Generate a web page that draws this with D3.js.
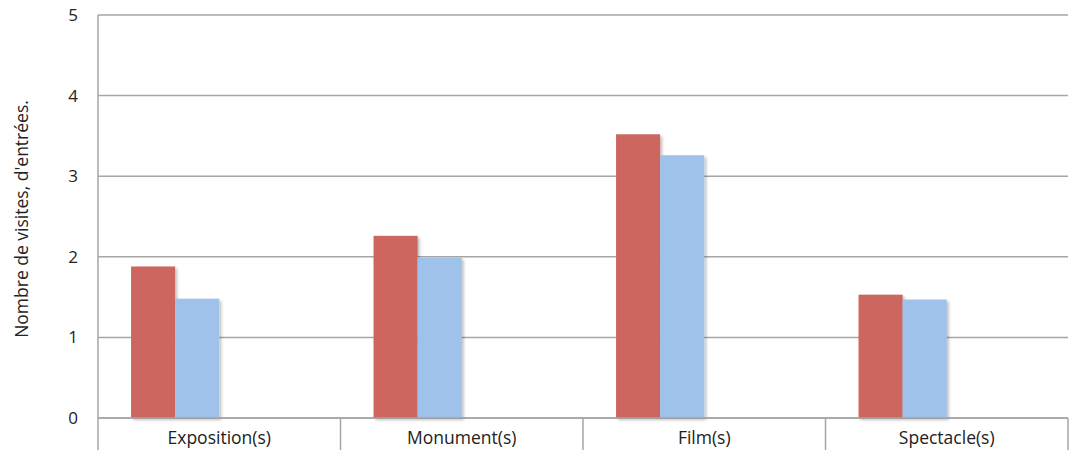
<!DOCTYPE html>
<html><head><meta charset="utf-8">
<script src="https://cdn.jsdelivr.net/npm/d3@7"></script>
<style>body{margin:0;background:#fff}svg{display:block}</style>
</head><body>
<svg id="c" width="1071" height="450"></svg>
<script>
const categories = ["Exposition(s)", "Monument(s)", "Film(s)", "Spectacle(s)"];
const series1 = [1.88, 2.26, 3.52, 1.53];
const series2 = [1.48, 1.99, 3.26, 1.47];
const series3 = [0, 0, 0, 0];
const series4 = [0, 0, 0, 0];
const seriesNames = ["Série 1", "Série 2", "Série 3", "Série 4"];
const yTicks = [0, 1, 2, 3, 4, 5];
const yTitle = "Nombre de visites, d'entrées.";
const colors = ["#CC665F", "#9EC2EA", "#AFCB6E", "#8E76B0"];

const allSeries = [series1, series2, series3, series4];
const svg = d3.select("#c");
const font = "'Open Sans', sans-serif";
const L = 98, R = 1068, T = 15, B = 418;

const x = d3.scaleBand().domain(categories).range([L, R]).padding(0);
// gap width 150% => 0.75 bar width of padding on each side of the 4 bars
const bw = x.bandwidth() / 5.5;
const inner = d3.scaleBand().domain(seriesNames).range([0.75 * bw, 4.75 * bw]).padding(0);
const y = d3.scaleLinear().domain([0, 5]).range([B, T]);

svg.append("g").selectAll("line").data(yTicks).join("line")
  .attr("x1", L).attr("x2", R).attr("y1", d => y(d)).attr("y2", d => y(d))
  .attr("stroke", "#A6A6A6").attr("stroke-width", 1.5);

svg.append("line").attr("x1", L).attr("x2", L).attr("y1", T).attr("y2", B)
  .attr("stroke", "#A6A6A6").attr("stroke-width", 1.5);

svg.append("g").selectAll("text").data(yTicks).join("text")
  .attr("x", 78).attr("y", d => y(d)).attr("dy", "0.35em")
  .attr("text-anchor", "end").attr("font-family", font).attr("font-size", 17)
  .attr("fill", "#222").text(d => d);

const rows = [];
allSeries.forEach((s, si) => s.forEach((v, ci) => rows.push({si, ci, v})));
svg.append("defs").append("filter").attr("id", "sh").attr("x", "-10%").attr("y", "-10%").attr("width", "130%").attr("height", "130%")
  .html('<feGaussianBlur in="SourceAlpha" stdDeviation="1.5"/><feOffset dx="1.5" dy="1.5" result="o"/><feComponentTransfer><feFuncA type="linear" slope="0.25"/></feComponentTransfer><feMerge><feMergeNode/><feMergeNode in="SourceGraphic"/></feMerge>');
svg.append("g").selectAll("rect").data(rows.filter(r => r.v > 0)).join("rect")
  .attr("x", r => x(categories[r.ci]) + inner(seriesNames[r.si]))
  .attr("width", inner.bandwidth())
  .attr("y", r => y(r.v)).attr("height", r => y(0) - y(r.v))
  .attr("fill", r => colors[r.si]).attr("filter", "url(#sh)");

const seps = categories.map(c => x(c)).concat([R]);
svg.append("g").selectAll("line").data(seps).join("line")
  .attr("x1", d => d).attr("x2", d => d).attr("y1", B).attr("y2", 450)
  .attr("stroke", "#A6A6A6").attr("stroke-width", 1.5);
svg.append("line").attr("x1", L).attr("x2", R).attr("y1", B).attr("y2", B)
  .attr("stroke", "#A6A6A6").attr("stroke-width", 1.5);

svg.append("g").selectAll("text").data(categories).join("text")
  .attr("x", d => x(d) + x.bandwidth() / 2).attr("y", 438).attr("dy", "0.35em")
  .attr("text-anchor", "middle").attr("font-family", font).attr("font-size", 17.5)
  .attr("fill", "#222").text(d => d);

svg.append("text").attr("transform", `translate(22,219) rotate(-90)`)
  .attr("dy", "0.35em").attr("text-anchor", "middle").attr("font-family", font)
  .attr("font-size", 17.5).attr("fill", "#222").text(yTitle);
</script>
</body></html>
